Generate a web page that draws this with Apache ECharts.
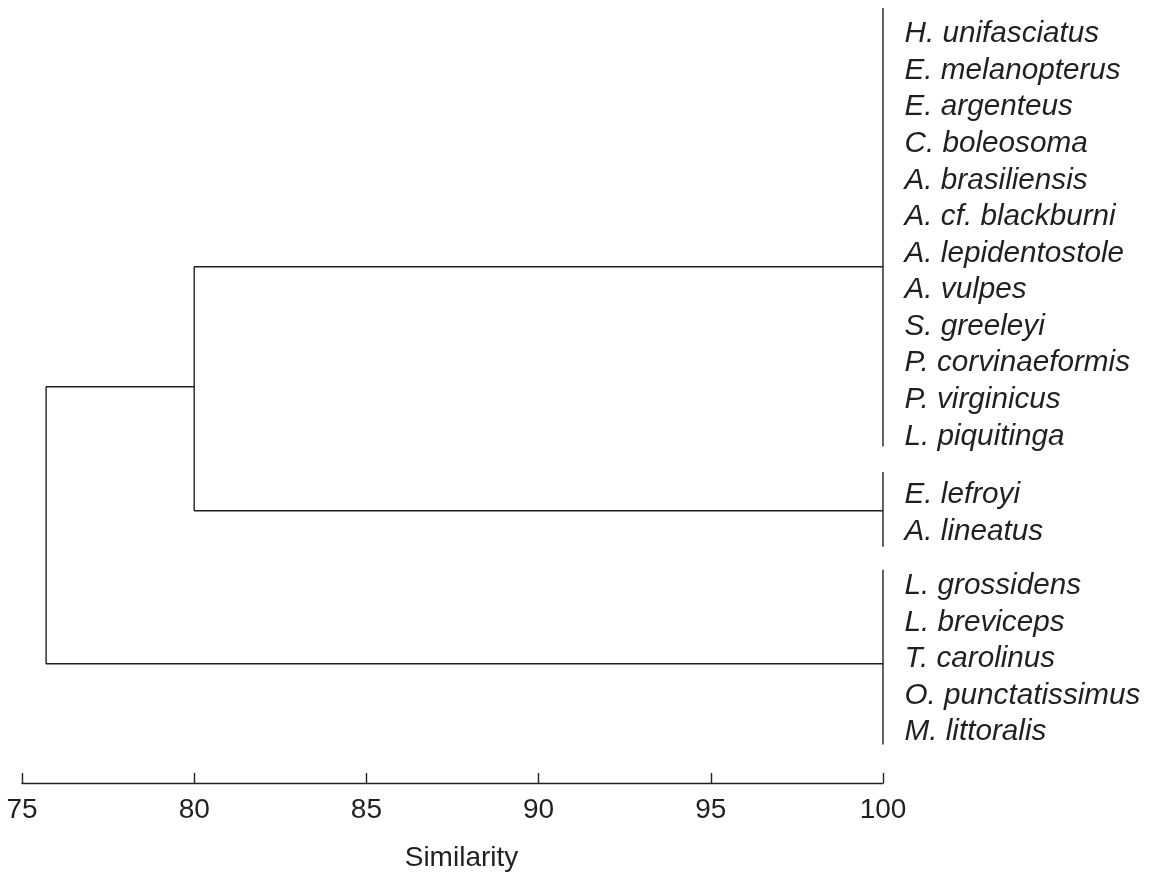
<!DOCTYPE html>
<html>
<head>
<meta charset="utf-8">
<script src="https://cdn.jsdelivr.net/npm/echarts@6/dist/echarts.min.js"></script>
<style>
  html, body { margin: 0; padding: 0; background: #fff; }
  #chart { width: 1149px; height: 872px; }
</style>
</head>
<body>
<div id="chart"></div>
<script>
// species per cluster, top to bottom
var group1Names = ['H. unifasciatus', 'E. melanopterus', 'E. argenteus', 'C. boleosoma',
  'A. brasiliensis', 'A. cf. blackburni', 'A. lepidentostole', 'A. vulpes',
  'S. greeleyi', 'P. corvinaeformis', 'P. virginicus', 'L. piquitinga'];
var group2Names = ['E. lefroyi', 'A. lineatus'];
var group3Names = ['L. grossidens', 'L. breviceps', 'T. carolinus', 'O. punctatissimus', 'M. littoralis'];

// row slot of the first label in each cluster
var groupStart = [0, 12.6, 15.08];
// vertical bar extent at similarity 100, in row slots
var barTop = [-0.68, 12.0, 14.67];
var barBottom = [11.3, 14.04, 19.45];
// where each cluster's branch leaves its bar
var branchRow = [6.39, 13.06, 17.24];

// join levels (similarity)
var withinSim = 100;
var join12Sim = 80;
var rootSim = 75.7;
var join12Row = 9.67;

var xTicks = [75, 80, 85, 90, 95, 100];

var ink = '#231f20';
var font = 'Liberation Sans, Arial, sans-serif';
var allNames = [group1Names, group2Names, group3Names];

// label points
var labelData = [];
allNames.forEach(function (names, g) {
  names.forEach(function (n, i) {
    labelData.push({ name: n, value: [withinSim, groupStart[g] + i] });
  });
});

// dendrogram segments as [x, row] pairs
var segments = [];
for (var g = 0; g < 3; g++) {
  segments.push([[withinSim, barTop[g]], [withinSim, barBottom[g]]]);
}
segments.push([[withinSim, branchRow[0]], [join12Sim, branchRow[0]], [join12Sim, branchRow[1]], [withinSim, branchRow[1]]]);
segments.push([[join12Sim, join12Row], [rootSim, join12Row], [rootSim, branchRow[2]], [withinSim, branchRow[2]]]);

var series = segments.map(function (seg) {
  return {
    type: 'line',
    data: seg,
    symbol: 'none',
    silent: true,
    animation: false,
    lineStyle: { color: ink, width: 1.4 }
  };
});

series.push({
  type: 'scatter',
  data: labelData,
  symbolSize: 1,
  itemStyle: { opacity: 0 },
  silent: true,
  animation: false,
  label: {
    show: true,
    position: 'right',
    distance: 21,
    offset: [0, 1],
    formatter: '{b}',
    color: ink,
    opacity: 1,
    textBorderWidth: 0,
    fontFamily: font,
    fontStyle: 'italic',
    fontSize: 29.7
  }
});

var chart = echarts.init(document.getElementById('chart'));
chart.setOption({
  backgroundColor: '#fff',
  animation: false,
  grid: { left: 22, right: 266, top: 0, bottom: 89, containLabel: false, outerBoundsMode: 'none' },
  xAxis: {
    type: 'value',
    min: xTicks[0],
    max: xTicks[xTicks.length - 1],
    interval: 5,
    name: 'Similarity',
    nameLocation: 'middle',
    nameGap: 61,
    nameTextStyle: { color: ink, fontSize: 28, fontFamily: font, padding: [0, 0, 0, 18] },
    axisLine: { show: true, onZero: false, lineStyle: { color: ink, width: 1.4 } },
    axisTick: { show: true, inside: true, length: 10, lineStyle: { color: ink, width: 1.4 } },
    axisLabel: { color: ink, fontSize: 28, margin: 13, fontFamily: font },
    splitLine: { show: false }
  },
  yAxis: {
    type: 'value',
    inverse: true,
    min: -0.9,
    max: 20.5,
    show: false
  },
  series: series
});
</script>
</body>
</html>
